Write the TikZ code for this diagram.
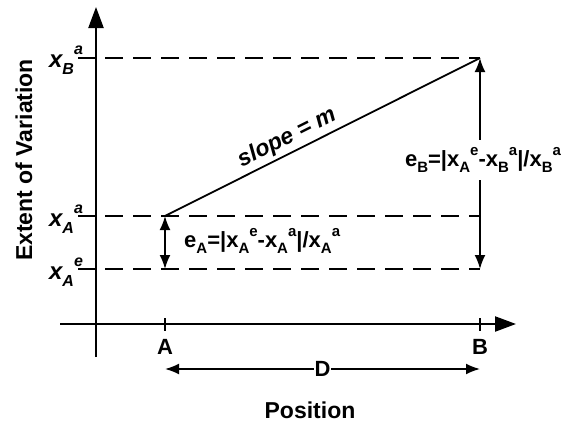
\documentclass[tikz,border=0pt]{standalone}
\usepackage{fontspec}
\setmainfont{Liberation Sans}
\usetikzlibrary{arrows.meta}
\newcommand{\lsb}[1]{\raisebox{-0.28em}{\fontsize{15}{15}\selectfont #1}}
\newcommand{\lsp}[1]{\raisebox{0.52em}{\fontsize{15}{15}\selectfont #1}}
\newcommand{\ysb}[1]{\raisebox{-0.3em}{\fontsize{16}{16}\selectfont #1}}
\newcommand{\ysp}[1]{\raisebox{0.55em}{\fontsize{16}{16}\selectfont #1}}
\tikzset{
  axisline/.style={line width=2.2pt, -{Triangle[length=21pt,width=15pt]}},
  guide/.style={line width=2pt, dash pattern=on 18pt off 10pt},
  tickline/.style={line width=2pt},
  dbl/.style={line width=1.8pt, {Latex[length=14pt,width=11pt]}-{Latex[length=14pt,width=11pt]}},
  lbl/.style={font=\fontsize{22}{26}\selectfont\bfseries, inner sep=0pt},
  ylbl/.style={font=\fontsize{24}{28}\selectfont\bfseries\itshape, inner sep=0pt},
  ttl/.style={font=\fontsize{23}{27}\selectfont\bfseries, inner sep=0pt}
}
\begin{document}
\begin{tikzpicture}[x=1pt,y=-1pt]
\useasboundingbox (0,0) rectangle (579,423);
% axes
\coordinate (yb) at (96,357);
\coordinate (yt) at (96,7);
\coordinate (xl) at (60,324);
\coordinate (xr) at (516,324);
\draw[axisline] (yb) -- (yt);
\draw[axisline] (xl) -- (xr);
% key points
\coordinate (A) at (165,216);
\coordinate (B) at (480,58);
\coordinate (Ae) at (165,269);
\coordinate (Be) at (480,269);
\coordinate (Ba) at (480,216);
% y ticks
\coordinate (t1a) at (78,58);  \coordinate (t1b) at (96,58);
\coordinate (t2a) at (78,216); \coordinate (t2b) at (96,216);
\coordinate (t3a) at (78,269); \coordinate (t3b) at (96,269);
\draw[tickline] (t1a) -- (t1b);
\draw[tickline] (t2a) -- (t2b);
\draw[tickline] (t3a) -- (t3b);
% dashed guides
\coordinate (g1) at (105,58);
\coordinate (g2) at (105,216);
\coordinate (g3) at (105,269);
\draw[guide] (g1) -- (B);
\draw[guide] (g2) -- (Ba);
\draw[guide] (g3) -- (Be);
% x ticks
\coordinate (xa1) at (165,318); \coordinate (xa2) at (165,331);
\coordinate (xb1) at (480,318); \coordinate (xb2) at (480,331);
\draw[tickline] (xa1) -- (xa2);
\draw[tickline] (xb1) -- (xb2);
% slope line
\draw[line width=1.8pt] (A) -- (B);
\node[lbl, font=\fontsize{23}{26}\selectfont\bfseries\itshape, rotate=26.6] (slope) at (287,138) {slope = m};
% arrows
\draw[dbl] (A) -- (Ae);
\draw[dbl] (B) -- (Be);
\node[lbl, anchor=west] (eA) at (184,241) {e\lsb{A}=|x\lsb{A}\lsp{e}-x\lsb{A}\lsp{a}|/x\lsb{A}\lsp{a}};
\node[lbl, fill=white, inner xsep=1pt, inner ysep=7pt] (eB) at (483,160) {e\lsb{B}=|x\lsb{A}\lsp{e}-x\lsb{B}\lsp{a}|/x\lsb{B}\lsp{a}};
% y labels
\node[ylbl] (yB) at (66,60) {x\ysb{B}\ysp{a}};
\node[ylbl] (yAa) at (66,219) {x\ysb{A}\ysp{a}};
\node[ylbl] (yAe) at (66,272) {x\ysb{A}\ysp{e}};
% x labels
\node[lbl] (lA) at (165,347) {A};
\node[lbl] (lB) at (480,347) {B};
\coordinate (dA) at (165,369);
\coordinate (dB) at (480,369);
\draw[dbl] (dA) -- node[lbl, fill=white, inner xsep=1pt] (D) {D} (dB);
% titles
\node[ttl] (pos) at (310,410) {Position};
\node[ttl, rotate=90] (ext) at (24,160) {Extent of Variation};
\end{tikzpicture}
\end{document}
